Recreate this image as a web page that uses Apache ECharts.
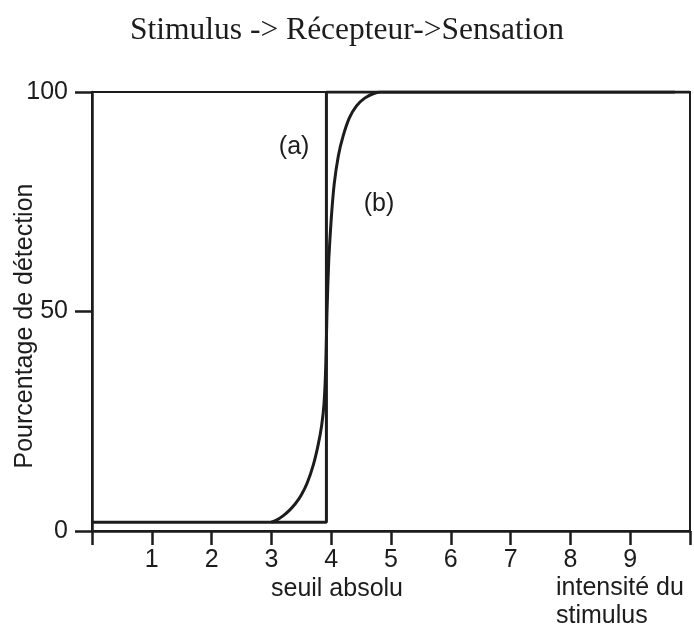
<!DOCTYPE html>
<html>
<head>
<meta charset="utf-8">
<script src="https://cdn.jsdelivr.net/npm/echarts@6/dist/echarts.min.js"></script>
<style>
  html, body { margin: 0; padding: 0; background: #fff; }
  #chart { width: 694px; height: 626px; }
</style>
</head>
<body>
<div id="chart"></div>
<script>
// step response (a): all or nothing at the threshold
var stepX = [0, 3.92, 3.92, 10];
var stepY = [2, 2, 100, 100];

// progressive response (b)
var curveX = [3.0, 3.1, 3.2, 3.3, 3.4, 3.5, 3.6, 3.7, 3.78, 3.84, 3.88, 3.91, 3.93, 3.96, 4.0, 4.05, 4.12, 4.2, 4.3, 4.42, 4.56, 4.7, 4.82, 9.75];
var curveY = [2, 2.6, 3.5, 4.7, 6.2, 8.2, 11, 15, 19.5, 24, 29, 38, 50, 62, 71, 79, 85.5, 90, 94, 96.8, 98.6, 99.6, 100, 100];

var xTicks = ['', '1', '2', '3', '4', '5', '6', '7', '8', '9', ''];

var lineColor = '#1c1c1c';
var sans = 'Liberation Sans';

function pairs(xs, ys) {
    return xs.map(function(x, i) { return [x, ys[i]]; });
}

var chart = echarts.init(document.getElementById('chart'));

var option = {
    backgroundColor: '#fff',
    animation: false,
    title: {
        text: 'Stimulus -> Récepteur->Sensation',
        left: 'center',
        top: 10,
        textStyle: {
            fontFamily: 'Liberation Serif',
            fontWeight: 'normal',
            fontSize: 31.5,
            color: '#1c1c1c'
        }
    },
    grid: {
        left: 92,
        right: 4,
        top: 92,
        bottom: 95,
        show: true,
        borderColor: lineColor,
        borderWidth: 2
    },
    xAxis: {
        type: 'value',
        min: 0,
        max: 10,
        interval: 1,
        splitLine: { show: false },
        axisLine: { lineStyle: { color: lineColor, width: 2.5 } },
        axisTick: { length: 14, lineStyle: { color: lineColor, width: 2.5 } },
        axisLabel: {
            margin: 17,
            fontFamily: sans,
            fontSize: 25,
            color: '#1c1c1c',
            formatter: function(v) { return xTicks[Math.round(v)]; }
        }
    },
    yAxis: {
        type: 'value',
        min: 0,
        max: 100,
        interval: 50,
        splitLine: { show: false },
        axisLine: { show: true, lineStyle: { color: lineColor, width: 2.5 } },
        axisTick: { show: true, length: 17, lineStyle: { color: lineColor, width: 2.5 } },
        axisLabel: {
            margin: 24,
            fontFamily: sans,
            fontSize: 25,
            color: '#1c1c1c'
        }
    },
    graphic: [
        {
            type: 'text',
            x: 25, y: 326,
            rotation: Math.PI / 2,
            style: {
                text: 'Pourcentage de détection',
                font: '25px "Liberation Sans"',
                fill: '#1c1c1c',
                align: 'center',
                verticalAlign: 'middle'
            }
        },
        {
            type: 'text',
            x: 337, y: 589,
            style: {
                text: 'seuil absolu',
                font: '25px "Liberation Sans"',
                fill: '#1c1c1c',
                align: 'center',
                verticalAlign: 'middle'
            }
        },
        {
            type: 'text',
            x: 556, y: 574,
            style: {
                text: 'intensité du\nstimulus',
                font: '25px "Liberation Sans"',
                lineHeight: 28,
                fill: '#1c1c1c',
                align: 'left',
                verticalAlign: 'top'
            }
        }
    ],
    series: [
        {
            name: '(a)',
            type: 'line',
            data: pairs(stepX, stepY),
            showSymbol: false,
            lineStyle: { color: lineColor, width: 3 },
            markPoint: {
                symbol: 'circle',
                symbolSize: 0,
                label: {
                    show: true,
                    formatter: '(a)',
                    fontFamily: sans,
                    fontSize: 25,
                    color: '#1c1c1c'
                },
                data: [{ coord: [3.38, 87.5] }]
            }
        },
        {
            name: '(b)',
            type: 'line',
            data: pairs(curveX, curveY),
            showSymbol: false,
            smooth: 0.2,
            lineStyle: { color: lineColor, width: 3 },
            markPoint: {
                symbol: 'circle',
                symbolSize: 0,
                label: {
                    show: true,
                    formatter: '(b)',
                    fontFamily: sans,
                    fontSize: 25,
                    color: '#1c1c1c'
                },
                data: [{ coord: [4.8, 74.5] }]
            }
        }
    ]
};

chart.setOption(option);
</script>
</body>
</html>
